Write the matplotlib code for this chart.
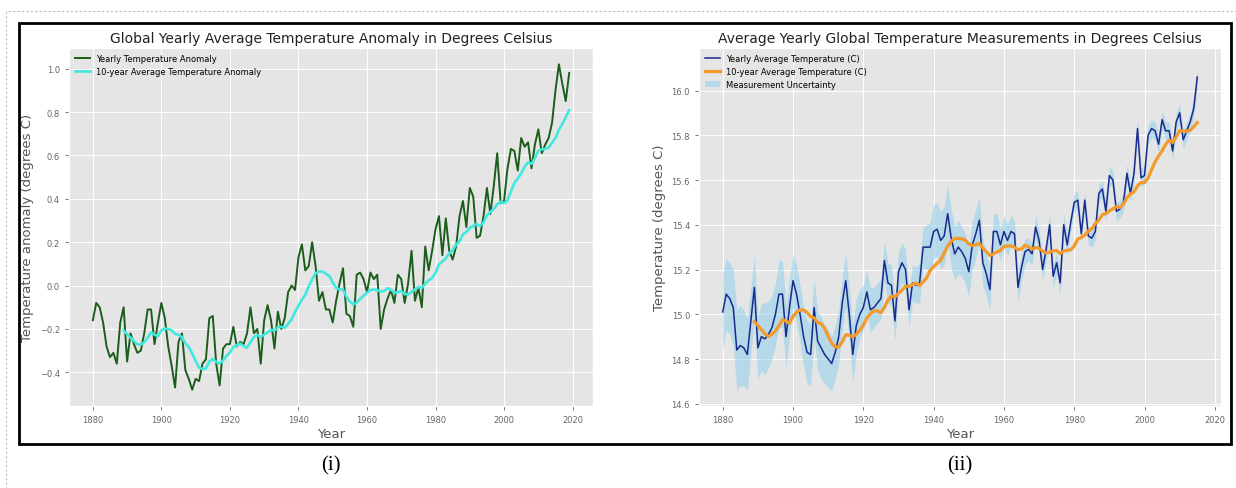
import numpy as np
import pandas as pd
import matplotlib
matplotlib.use("Agg")
import matplotlib.pyplot as plt
from matplotlib.patches import Rectangle

plt.style.use("ggplot")
plt.rcParams["grid.linewidth"] = 0.7

# ---- Panel (i): global yearly temperature anomaly, 1880-2019 ----
anom_years = list(range(1880, 2020))
anomaly = [
    -0.16, -0.08, -0.10, -0.17, -0.28, -0.33, -0.31, -0.36, -0.17, -0.10,
    -0.35, -0.22, -0.27, -0.31, -0.30, -0.22, -0.11, -0.11, -0.27, -0.17,
    -0.08, -0.15, -0.28, -0.37, -0.47, -0.26, -0.22, -0.39, -0.43, -0.48,
    -0.43, -0.44, -0.36, -0.34, -0.15, -0.14, -0.36, -0.46, -0.29, -0.27,
    -0.27, -0.19, -0.28, -0.26, -0.27, -0.22, -0.10, -0.22, -0.20, -0.36,
    -0.16, -0.09, -0.16, -0.29, -0.12, -0.20, -0.15, -0.03, 0.00, -0.02,
    0.13, 0.19, 0.07, 0.09, 0.20, 0.09, -0.07, -0.03, -0.11, -0.11,
    -0.17, -0.07, 0.01, 0.08, -0.13, -0.14, -0.19, 0.05, 0.06, 0.03,
    -0.03, 0.06, 0.03, 0.05, -0.20, -0.11, -0.06, -0.02, -0.08, 0.05,
    0.03, -0.08, 0.01, 0.16, -0.07, -0.01, -0.10, 0.18, 0.07, 0.16,
    0.26, 0.32, 0.14, 0.31, 0.16, 0.12, 0.18, 0.32, 0.39, 0.27,
    0.45, 0.41, 0.22, 0.23, 0.32, 0.45, 0.33, 0.46, 0.61, 0.38,
    0.39, 0.54, 0.63, 0.62, 0.53, 0.68, 0.64, 0.66, 0.54, 0.65,
    0.72, 0.61, 0.65, 0.68, 0.75, 0.90, 1.02, 0.93, 0.85, 0.98,
]

# ---- Panel (ii): yearly average temperature with uncertainty, 1880-2015 ----
temp_years = list(range(1880, 2016))
avg_temp = [
    15.01, 15.09, 15.07, 15.03, 14.84, 14.86, 14.85, 14.82, 14.97, 15.12,
    14.85, 14.90, 14.89, 14.91, 14.94, 15.00, 15.09, 15.09, 14.90, 15.03,
    15.15, 15.09, 15.00, 14.90, 14.83, 14.82, 15.03, 14.88, 14.85, 14.82,
    14.80, 14.78, 14.83, 14.90, 15.05, 15.15, 15.00, 14.82, 14.95, 15.00,
    15.03, 15.10, 15.02, 15.03, 15.05, 15.07, 15.24, 15.14, 15.13, 14.97,
    15.19, 15.23, 15.20, 15.02, 15.14, 15.13, 15.14, 15.30, 15.30, 15.30,
    15.37, 15.38, 15.33, 15.35, 15.45, 15.34, 15.27, 15.30, 15.28, 15.25,
    15.19, 15.31, 15.36, 15.42, 15.23, 15.18, 15.11, 15.37, 15.37, 15.31,
    15.37, 15.33, 15.37, 15.36, 15.12, 15.21, 15.28, 15.29, 15.27, 15.39,
    15.33, 15.20, 15.29, 15.40, 15.17, 15.23, 15.14, 15.40, 15.31, 15.41,
    15.50, 15.51, 15.36, 15.51, 15.35, 15.34, 15.37, 15.54, 15.56, 15.46,
    15.62, 15.60, 15.46, 15.47, 15.50, 15.63, 15.54, 15.63, 15.83, 15.61,
    15.62, 15.80, 15.83, 15.82, 15.76, 15.87, 15.82, 15.82, 15.73, 15.86,
    15.90, 15.78, 15.82, 15.86, 15.92, 16.06,
]
uncertainty = [
    0.17, 0.16, 0.16, 0.17, 0.18, 0.18, 0.17, 0.16, 0.15, 0.15,
    0.14, 0.15, 0.16, 0.15, 0.14, 0.14, 0.15, 0.15, 0.14, 0.13,
    0.12, 0.13, 0.13, 0.13, 0.14, 0.14, 0.13, 0.13, 0.14, 0.13,
    0.13, 0.12, 0.12, 0.12, 0.12, 0.12, 0.12, 0.13, 0.12, 0.11,
    0.10, 0.10, 0.10, 0.09, 0.09, 0.09, 0.09, 0.09, 0.09, 0.09,
    0.09, 0.09, 0.09, 0.08, 0.08, 0.08, 0.09, 0.09, 0.10, 0.11,
    0.12, 0.12, 0.13, 0.13, 0.13, 0.13, 0.12, 0.12, 0.11, 0.11,
    0.11, 0.11, 0.11, 0.10, 0.10, 0.10, 0.09, 0.08, 0.08, 0.07,
    0.07, 0.07, 0.07, 0.06, 0.06, 0.06, 0.06, 0.05, 0.05, 0.05,
    0.05, 0.05, 0.05, 0.05, 0.05, 0.05, 0.05, 0.05, 0.05, 0.04,
    0.04, 0.04, 0.04, 0.04, 0.04, 0.04, 0.04, 0.04, 0.04, 0.04,
    0.04, 0.04, 0.04, 0.04, 0.04, 0.04, 0.04, 0.04, 0.04, 0.04,
    0.04, 0.04, 0.04, 0.04, 0.04, 0.04, 0.04, 0.04, 0.04, 0.04,
    0.04, 0.04, 0.04, 0.04, 0.04, 0.04,
]

anom = pd.Series(anomaly, index=anom_years)
anom_10yr = anom.rolling(10).mean()
temp = pd.Series(avg_temp, index=temp_years)
temp_10yr = temp.rolling(10).mean()
unc = pd.Series(uncertainty, index=temp_years)

W, H = 1236, 489
fig = plt.figure(figsize=(W / 100, H / 100), dpi=100)
fig.patch.set_facecolor("white")


def px_axes(left, top, right, bottom):
    return fig.add_axes([left / W, 1 - bottom / H, (right - left) / W, (bottom - top) / H])


tick_kw = dict(labelsize=6, colors="#666666", length=3, width=0.6)
label_kw = dict(fontsize=9.5, color="#555555")

# Panel (i)
ax1 = px_axes(69, 49, 593, 407)
ax1.plot(anom.index, anom.values, color="#1b5e1b", lw=1.4,
         label="Yearly Temperature Anomaly")
ax1.plot(anom_10yr.index, anom_10yr.values, color="#40e8e0", lw=1.9,
         label="10-year Average Temperature Anomaly")
ax1.set_title("Global Yearly Average Temperature Anomaly in Degrees Celsius",
              fontsize=10, color="#222222", pad=4)
ax1.set_xlabel("Year", labelpad=2, **label_kw)
ax1.set_ylabel("Temperature anomaly (degrees C)", labelpad=4, **label_kw)
ax1.tick_params(axis="both", **tick_kw)
ax1.legend(loc="upper left", fontsize=6, frameon=False, handlelength=1.8,
           borderaxespad=0.3, labelspacing=0.5)

# Panel (ii)
ax2 = px_axes(699, 49, 1221, 407)
ax2.fill_between(unc.index, temp - unc, temp + unc, color="skyblue",
                 alpha=0.5, lw=0, label="Measurement Uncertainty")
ax2.plot(temp.index, temp.values, color="#1a2a8c", lw=1.1,
         label="Yearly Average Temperature (C)")
ax2.plot(temp_10yr.index, temp_10yr.values, color="#f39a2b", lw=2.3,
         label="10-year Average Temperature (C)")
ax2.set_ylim(14.59, 16.19)
ax2.set_title("Average Yearly Global Temperature Measurements in Degrees Celsius",
              fontsize=10, color="#222222", pad=4)
ax2.set_xlabel("Year", labelpad=2, **label_kw)
ax2.set_ylabel("Temperature (degrees C)", labelpad=4, **label_kw)
ax2.tick_params(axis="both", **tick_kw)
h, l = ax2.get_legend_handles_labels()
order = [1, 2, 0]
ax2.legend([h[i] for i in order], [l[i] for i in order], loc="upper left",
           fontsize=6, frameon=False, handlelength=1.8, borderaxespad=0.3,
           labelspacing=0.5)

# Page frame: dotted outer border and the black box around both panels
fig.add_artist(Rectangle((6 / W, 0), (W - 6) / W + 0.01, 1 - 12 / H,
                         transform=fig.transFigure, fill=False,
                         edgecolor="#bbbbbb", lw=0.8, ls=(0, (2, 2))))
fig.add_artist(Rectangle((19 / W, 1 - 445 / H), (1231 - 19) / W, (445 - 24) / H,
                         transform=fig.transFigure, fill=False,
                         edgecolor="black", lw=2.0))

# Panel captions
cap_kw = dict(fontsize=15, family=["Liberation Serif", "DejaVu Serif"],
              ha="center", va="center", color="black")
fig.text(331 / W, 1 - 466 / H, "(i)", **cap_kw)
fig.text(960 / W, 1 - 466 / H, "(ii)", **cap_kw)

fig.savefig("out.png", dpi=100)
